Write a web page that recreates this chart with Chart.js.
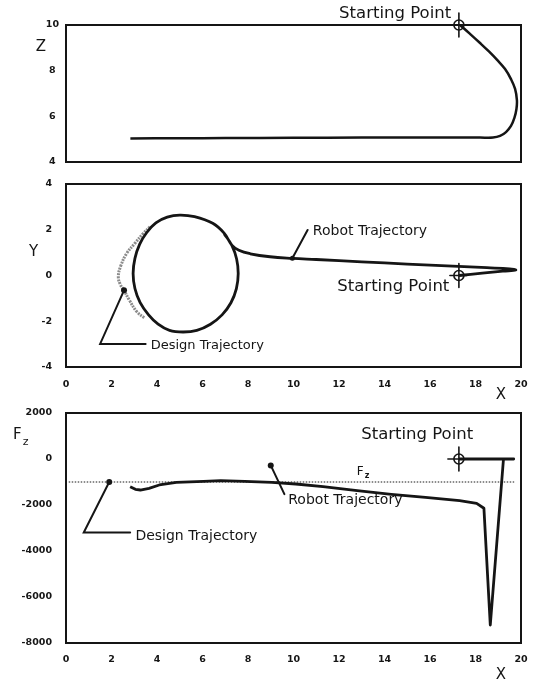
<!DOCTYPE html>
<html>
<head>
<meta charset="utf-8">
<script src="https://cdn.jsdelivr.net/npm/chart.js@4.4.1/dist/chart.umd.min.js"></script>
<style>
  html, body { margin: 0; padding: 0; background: #fff; }
  #wrap { position: relative; width: 536px; height: 684px; overflow: hidden; background: #fff; }
  .panel { position: absolute; left: 0; width: 536px; }
  canvas { display: block; }
</style>
</head>
<body>
<div id="wrap">
  <div class="panel" style="top:0;height:170px"><canvas id="cz" width="536" height="170"></canvas></div>
  <div class="panel" style="top:170px;height:232px"><canvas id="cy" width="536" height="232"></canvas></div>
  <div class="panel" style="top:402px;height:282px"><canvas id="cf" width="536" height="282"></canvas></div>
</div>
<script>
// ---------- data ----------
// shared X axis
const xTickValues = [0, 2, 4, 6, 8, 10, 12, 14, 16, 18, 20];

// starting point of the robot
const startX = 17.27;
const startZ = 10.0;
const startY = 0.0;
const startF = 0;

// Z against X: robot path (descends from the start, then runs left at Z ~ 5)
const zTickValues = [4, 6, 8, 10];
const zPathX = [17.32, 17.76, 18.2, 18.59, 18.95, 19.3, 19.56, 19.74, 19.82, 19.8, 19.71, 19.56, 19.34, 19.08, 18.77, 18.2, 16.0, 13.0, 10.0, 7.0, 5.0, 2.83];
const zPathZ = [10.0, 9.61, 9.21, 8.84, 8.47, 8.07, 7.63, 7.2, 6.71, 6.32, 5.93, 5.58, 5.31, 5.14, 5.07, 5.07, 5.07, 5.07, 5.06, 5.05, 5.04, 5.03];

// Y against X: robot path (out to the right tip, back left, then round the circle)
const yTickValues = [-4, -2, 0, 2, 4];
const yPathX = [17.27, 18.3, 19.2, 19.77, 19.5, 18.5, 17.0, 15.0, 13.0, 11.0, 9.95, 8.97, 8.1, 7.6,
                7.3, 6.95, 6.45, 5.65, 5.0, 4.45, 3.95, 3.55, 3.24, 3.03, 2.95, 3.03, 3.26, 3.63, 4.05, 4.55, 5.15, 5.75, 6.35, 6.86, 7.25, 7.49, 7.57, 7.5, 7.3, 6.95];
const yPathY = [0.0, 0.1, 0.19, 0.24, 0.29, 0.34, 0.41, 0.5, 0.6, 0.7, 0.75, 0.82, 0.95, 1.1,
                1.32, 1.85, 2.28, 2.57, 2.64, 2.55, 2.3, 1.88, 1.37, 0.75, 0.09, -0.57, -1.19, -1.72, -2.13, -2.4, -2.47, -2.4, -2.13, -1.72, -1.19, -0.57, 0.09, 0.72, 1.3, 1.83];
// Y against X: design trajectory (the part left of the robot circle)
const yDesignX = [3.69, 3.4, 3.03, 2.67, 2.4, 2.3, 2.38, 2.55, 2.78, 3.11, 3.47];
const yDesignY = [2.13, 1.84, 1.41, 0.97, 0.4, -0.05, -0.38, -0.65, -1.07, -1.58, -1.87];

// Fz against X: robot contact force
const fzTickValues = [-8000, -6000, -4000, -2000, 0, 2000];
const fzPathX = [17.27, 19.68, 19.23, 18.65, 18.37, 18.05, 17.3, 15.8, 14.3, 12.8, 11.3, 10.1, 9.05, 7.85, 6.8, 6.05, 4.85, 4.1, 3.65, 3.27, 3.05, 2.82];
const fzPathF = [0, 0, 0, -7217, -2140, -1928, -1812, -1667, -1536, -1377, -1203, -1087, -1014, -971, -942, -971, -1014, -1130, -1275, -1348, -1319, -1203];
// Fz against X: design force
const fzDesignX = [0.12, 19.7];
const fzDesignF = [-1000, -1000];

// ---------- drawing ----------
const ink = '#151515';
const dotGray = '#8c8c8c';
Chart.defaults.font.family = '"DejaVu Sans", sans-serif';
Chart.defaults.color = ink;

const pts = (xs, ys) => xs.map((x, i) => ({ x, y: ys[i] }));

const notesPlugin = {
  id: 'notes',
  afterDatasetsDraw(chart, args, opts) {
    const { ctx, chartArea: a } = chart;
    const sx = chart.scales.x, sy = chart.scales.y;
    const px = v => sx.getPixelForValue(v);
    const py = v => sy.getPixelForValue(v);
    ctx.save();
    ctx.strokeStyle = ink;
    ctx.fillStyle = ink;
    ctx.lineCap = 'round';
    // frame round the plot area
    ctx.lineWidth = 2;
    ctx.strokeRect(a.left, a.top, a.right - a.left, a.bottom - a.top);

    for (const it of (opts.items || [])) {
      if (it.type === 'target') {
        const cx = px(it.x), cy = py(it.y);
        ctx.lineWidth = 1.6;
        ctx.beginPath(); ctx.arc(cx, cy, 5, 0, Math.PI * 2); ctx.stroke();
        ctx.beginPath();
        ctx.moveTo(cx, cy - 12); ctx.lineTo(cx, cy + 12);
        ctx.moveTo(cx - (it.arm || 9), cy); ctx.lineTo(cx + 8, cy);
        ctx.stroke();
      } else if (it.type === 'leader') {
        ctx.lineWidth = 2;
        ctx.beginPath();
        it.path.forEach(([vx, vy], i) => i ? ctx.lineTo(px(vx), py(vy)) : ctx.moveTo(px(vx), py(vy)));
        ctx.stroke();
        ctx.beginPath(); ctx.arc(px(it.path[0][0]), py(it.path[0][1]), it.r || 3, 0, Math.PI * 2); ctx.fill();
      } else if (it.type === 'text') {
        ctx.font = it.font;
        ctx.textAlign = it.align || 'left';
        ctx.textBaseline = 'middle';
        ctx.fillText(it.text, px(it.x), py(it.y));
      } else if (it.type === 'subtext') {
        const x0 = it.pixel ? it.x : px(it.x), y0 = it.pixel ? it.y : py(it.y);
        ctx.font = it.font; ctx.textAlign = 'left'; ctx.textBaseline = 'middle';
        ctx.fillText(it.text, x0, y0);
        const w = ctx.measureText(it.text).width;
        ctx.font = it.subFont;
        ctx.fillText(it.sub, x0 + w + 1, y0 + it.subDrop);
      } else if (it.type === 'title') {
        ctx.font = it.font; ctx.textAlign = 'center'; ctx.textBaseline = 'middle';
        ctx.fillText(it.text, it.x, it.y);
      }
    }
    ctx.restore();
  }
};

const labelFont = '16.5px "DejaVu Sans"';
const calloutFont = '14px "DejaVu Sans"';
const titleFont = '15px "DejaVu Sans"';
const tickFont = { family: '"DejaVu Sans"', size: 9.5, weight: 'bold' };

function makeChart(id, cfg) {
  return new Chart(document.getElementById(id), {
    type: 'scatter',
    data: { datasets: cfg.datasets },
    options: {
      responsive: false,
      animation: false,
      devicePixelRatio: 1,
      layout: { padding: cfg.padding },
      elements: { point: { radius: 0, hoverRadius: 0 } },
      plugins: { legend: { display: false }, tooltip: { enabled: false }, notes: { items: cfg.notes } },
      scales: {
        x: {
          type: 'linear',
          min: xTickValues[0], max: xTickValues[xTickValues.length - 1],
          display: cfg.showX,
          grid: { display: false, drawTicks: false },
          border: { display: false },
          ticks: { font: tickFont, color: ink, padding: cfg.xPad || 12, maxRotation: 0 },
          afterBuildTicks: s => { s.ticks = xTickValues.map(v => ({ value: v })); },
          afterFit: s => { s.height = cfg.xHeight || 0; s.paddingLeft = 0; s.paddingRight = 0; }
        },
        y: {
          type: 'linear',
          min: cfg.yTicks[0], max: cfg.yTicks[cfg.yTicks.length - 1],
          grid: { display: false, drawTicks: false },
          border: { display: false },
          ticks: { font: tickFont, color: ink, padding: cfg.yPad, crossAlign: cfg.crossAlign || 'near', callback: v => String(v) },
          afterBuildTicks: s => { s.ticks = cfg.yTicks.map(v => ({ value: v })); },
          afterFit: s => { s.width = 66; s.paddingTop = 0; s.paddingBottom = 0; }
        }
      }
    },
    plugins: [notesPlugin]
  });
}

// Z against X
makeChart('cz', {
  padding: { top: 25, right: 15, bottom: 8, left: 0 },
  showX: false,
  yTicks: zTickValues,
  yPad: 7,
  crossAlign: 'center',
  datasets: [
    { data: pts(zPathX, zPathZ), showLine: true, borderColor: ink, borderWidth: 2.5, tension: 0.4 }
  ],
  notes: [
    { type: 'target', x: startX, y: startZ },
    { type: 'text', x: 16.93, y: 10.51, text: 'Starting Point', align: 'right', font: labelFont },
    { type: 'title', x: 41, y: 47, text: 'Z', font: titleFont }
  ]
});

// Y against X
makeChart('cy', {
  padding: { top: 14, right: 15, bottom: 0, left: 0 },
  showX: true,
  xHeight: 35,
  yTicks: yTickValues,
  yPad: 14,
  datasets: [
    { data: pts(yPathX, yPathY), showLine: true, borderColor: ink, borderWidth: 2.8, tension: 0.4 },
    { data: pts(yDesignX, yDesignY), showLine: true, borderColor: dotGray, borderWidth: 3, borderDash: [2, 1], tension: 0.4 }
  ],
  notes: [
    { type: 'target', x: startX, y: startY },
    { type: 'text', x: 16.85, y: -0.49, text: 'Starting Point', align: 'right', font: labelFont },
    { type: 'leader', path: [[9.95, 0.75], [10.62, 1.99]], r: 2.5 },
    { type: 'text', x: 10.85, y: 1.93, text: 'Robot Trajectory', font: calloutFont },
    { type: 'leader', path: [[2.55, -0.65], [1.5, -2.99], [3.5, -2.99]], r: 3 },
    { type: 'text', x: 3.72, y: -3.07, text: 'Design Trajectory', font: '13px "DejaVu Sans"' },
    { type: 'title', x: 33.5, y: 82, text: 'Y', font: titleFont },
    { type: 'title', x: 501, y: 225, text: 'X', font: titleFont }
  ]
});

// Fz against X
makeChart('cf', {
  padding: { top: 11, right: 15, bottom: 0, left: 0 },
  showX: true,
  xHeight: 41,
  xPad: 11,
  yTicks: fzTickValues,
  yPad: 14,
  datasets: [
    { data: pts(fzPathX, fzPathF), showLine: true, borderColor: ink, borderWidth: 2.8, tension: 0, borderJoinStyle: 'round' },
    { data: pts(fzDesignX, fzDesignF), showLine: true, borderColor: dotGray, borderWidth: 2, borderDash: [1.5, 1.5], tension: 0 }
  ],
  notes: [
    { type: 'target', x: startX, y: startF, arm: 11 },
    { type: 'text', x: 17.9, y: 1040, text: 'Starting Point', align: 'right', font: labelFont },
    { type: 'subtext', x: 12.78, y: -551, text: 'F', sub: 'z', font: '12px "DejaVu Sans"', subFont: 'bold 8px "DejaVu Sans"', subDrop: 4 },
    { type: 'leader', path: [[9.0, -280], [9.6, -1530]], r: 3 },
    { type: 'text', x: 9.77, y: -1810, text: 'Robot Trajectory', font: calloutFont },
    { type: 'leader', path: [[1.9, -1000], [0.78, -3200], [2.82, -3200]], r: 3 },
    { type: 'text', x: 3.05, y: -3350, text: 'Design Trajectory', font: calloutFont },
    { type: 'subtext', pixel: true, x: 13, y: 33, text: 'F', sub: 'z', font: titleFont, subFont: '11px "DejaVu Sans"', subDrop: 7 },
    { type: 'title', x: 501, y: 273, text: 'X', font: titleFont }
  ]
});
</script>
</body>
</html>
